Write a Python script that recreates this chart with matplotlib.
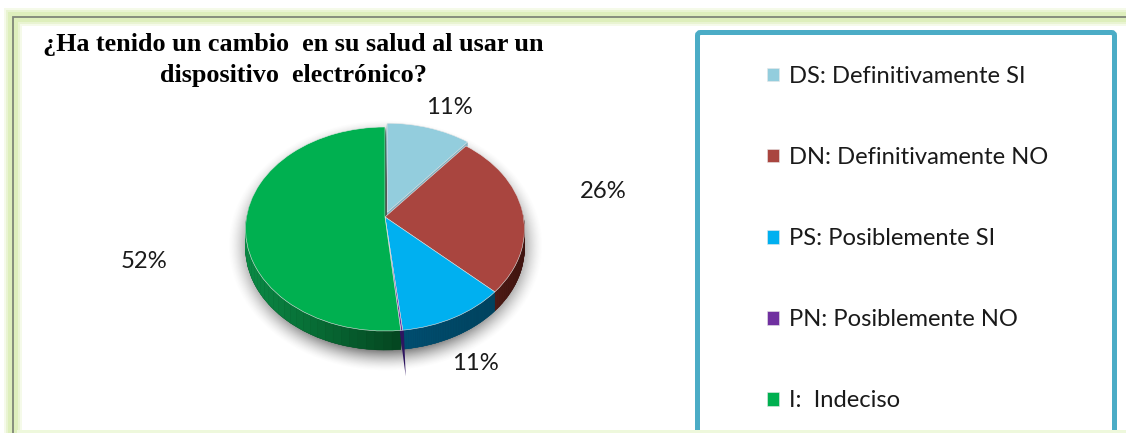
# Pie with a fake 3D look, frame and boxed legend
import matplotlib
matplotlib.use("Agg")
import matplotlib.pyplot as plt
import matplotlib.transforms as mtransforms
from matplotlib.patches import FancyBboxPatch, PathPatch, Polygon, Rectangle
from matplotlib.colors import to_rgb
import numpy as np

# ~~~~~~~~~~ Data ~~~~~~~~~~ #
title = "¿Ha tenido un cambio  en su salud al usar un\ndispositivo  electrónico?"
categories = ["DS: Definitivamente SI", "DN: Definitivamente NO", "PS: Posiblemente SI",
              "PN: Posiblemente NO", "I:  Indeciso"]
values = [11, 26, 11.2, 0.2, 51.6]
pct_labels = ["11%", "26%", "11%", "", "52%"]

# ~~~~~~~~~~ Style ~~~~~~~~~~ #
colors = ["#93CDDD", "#A9453F", "#00B0F0", "#7030A0", "#00B050"]
wall_light = ["#7FAFC0", "#5A2019", "#004E70", "#3A1A66", "#0A8A45"]
wall_dark = ["#7FAFC0", "#3F1410", "#00435F", "#2A1050", "#04431F"]
explode = [0.05, 0, 0, 0, 0]
pct_xy = [(449, 107), (603, 192), (475, 363), None, (144, 261)]
depth = 19


class PieView(mtransforms.Transform):
    # unit circle -> tilted ellipse in pixels, nearer side is larger
    input_dims = 2
    output_dims = 2
    cx, cy, a, b, k = 385, 217, 138.5, 100.6, 0.1176

    def transform_non_affine(self, xy):
        xy = np.asarray(xy, dtype=float)
        w = 1 + self.k * xy[:, 1]
        return np.column_stack([self.cx + self.a * xy[:, 0] / w, self.cy - self.b * xy[:, 1] / w])


fig = plt.figure(figsize=(11.26, 4.33), dpi=100)
ax = fig.add_axes([0, 0, 1, 1])

wedges, _ = ax.pie(values, colors=colors, explode=explode, startangle=90, counterclock=False, radius=1)
view = PieView()
for w in wedges:
    w.set_transform(view + ax.transData)
    w.set_zorder(5)
    w.set_edgecolor("#E8E8E8")
    w.set_linewidth(0.4)

ax.set_aspect("auto")
ax.axis("off")

# Soft shadow under the pie
yy, xx = np.mgrid[110:395, 205:565]
dist = np.sqrt(((xx - 385) / 158.0) ** 2 + ((yy - 245) / 126.0) ** 2)
shadow = np.zeros(dist.shape + (4,))
shadow[..., :3] = 0.22
shadow[..., 3] = np.clip((1.0 - dist) / 0.2, 0, 1) ** 1.6 * 0.85
ax.imshow(shadow, extent=(205, 565, 395, 110), zorder=1, aspect="auto", interpolation="bilinear")
ax.set_xlim(0, 1126)
ax.set_ylim(433, 0)

# Side walls: swept copies of each slice, then shaded strips along the rim
for i, w in enumerate(wedges):
    if values[i] < 1:
        continue
    for d in range(1, depth + 1):
        shift = mtransforms.Affine2D().translate(0, d)
        ax.add_patch(PathPatch(w.get_path(), facecolor=wall_dark[i], edgecolor=wall_dark[i], linewidth=0.3,
                               transform=view + shift + ax.transData, zorder=2))
    th = np.radians(np.linspace(w.theta1, w.theta2, 60))
    rim = np.column_stack([np.cos(th) * w.r + w.center[0], np.sin(th) * w.r + w.center[1]])
    px = view.transform_non_affine(rim)
    for j in range(len(px) - 1):
        if rim[j, 1] > 0:
            continue
        t = (px[j, 0] - px[:, 0].min()) / max(np.ptp(px[:, 0]), 1)
        col = np.array(to_rgb(wall_light[i])) * (1 - t) + np.array(to_rgb(wall_dark[i])) * t
        quad = [px[j], px[j + 1], px[j + 1] + [0, depth], px[j] + [0, depth]]
        ax.add_patch(Polygon(quad, facecolor=col, edgecolor=col, linewidth=0.3, zorder=3))

# The tiny PN slice shows up as a spike below the wall
pn = wedges[3]
th = np.radians([pn.theta1 - 0.4, pn.theta2 + 0.4])
pn_rim = view.transform_non_affine(np.column_stack([np.cos(th), np.sin(th)]))
tip = pn_rim.mean(axis=0) + [4, 46]
ax.add_patch(Polygon([pn_rim[0], pn_rim[1], tip], facecolor="#2E1560", edgecolor="none", zorder=4))

# Percent labels
for lab, xy in zip(pct_labels, pct_xy):
    if xy is not None:
        ax.text(xy[0], xy[1], lab, ha="center", va="center", fontsize=17.2, family="Lato", color="#1A1A1A", zorder=8)

# Title
ax.text(293, 60, title, ha="center", va="center", fontsize=18.85, fontweight="bold",
        family="Liberation Serif", linespacing=1.45, color="black", zorder=8)

# Outer frame: pale green glow with a dark line
for half, c in [(9, "#F5FAE9"), (7, "#E9F4D2"), (5, "#DEEFBC")]:
    ax.add_patch(Rectangle((13 - half, 17 - half), 1130, 2 * half, facecolor=c, edgecolor="none", zorder=1))
    ax.add_patch(Rectangle((13 - half, 17 - half), 2 * half, 430, facecolor=c, edgecolor="none", zorder=1))
ax.plot([13, 13, 1126], [433, 17, 17], color="#7F8678", linewidth=1.3, zorder=1.5, solid_joinstyle="miter")
ax.add_patch(Rectangle((17, 430), 1110, 4, facecolor="#EEF8DC", edgecolor="none", zorder=7))

# Legend box
ax.add_patch(FancyBboxPatch((697.5, 32.5), 417, 410, boxstyle="round,pad=0,rounding_size=3",
                            facecolor="white", edgecolor="#4BACC6", linewidth=3.6, zorder=6))
ax.legend(wedges, categories, loc="upper left", bbox_to_anchor=(767, 66), bbox_transform=ax.transData,
          frameon=False, prop={"family": "Lato", "size": 17.1}, labelspacing=2.53, handlelength=0.5,
          handleheight=0.5, handletextpad=0.42, borderpad=0, borderaxespad=0, labelcolor="#1A1A1A").set_zorder(8)

fig.savefig("out.png", dpi=100)
